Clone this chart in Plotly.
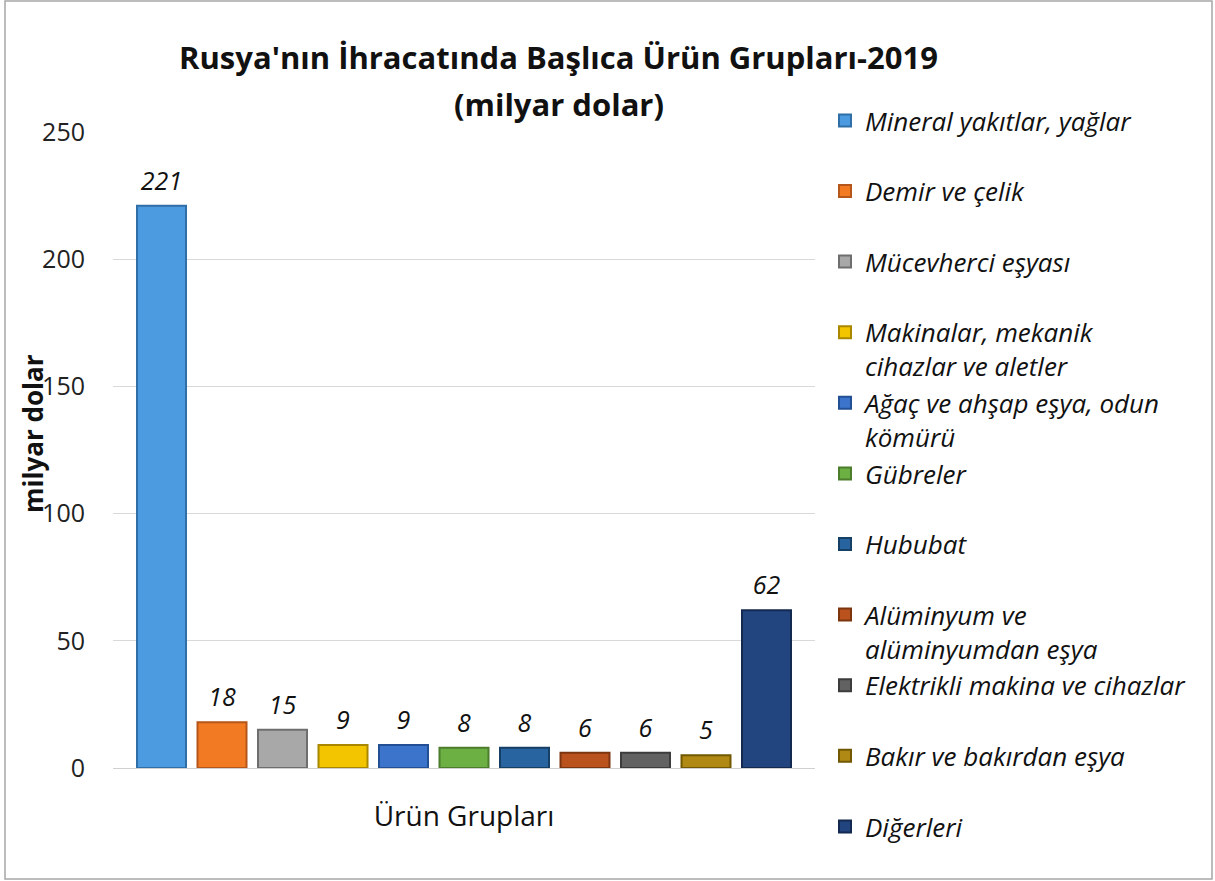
import plotly.graph_objects as go

categories = ["Ürün Grupları"]
series_names = [
    "Mineral yakıtlar, yağlar",
    "Demir ve çelik",
    "Mücevherci eşyası",
    "Makinalar, mekanik<br>cihazlar ve aletler",
    "Ağaç ve ahşap eşya, odun<br>kömürü",
    "Gübreler",
    "Hububat",
    "Alüminyum ve<br>alüminyumdan eşya",
    "Elektrikli makina ve cihazlar",
    "Bakır ve bakırdan eşya",
    "Diğerleri",
]
series_values = [221, 18, 15, 9, 9, 8, 8, 6, 6, 5, 62]
colors = ["#4C9BE0", "#F27A22", "#A8A8A8", "#F2C500", "#3C74CC",
          "#6CAF43", "#28649F", "#B9521C", "#626262", "#B08814", "#22447F"]
edge_colors = ["#2F6EA6", "#B5561A", "#6E6E6E", "#A98800", "#234F94",
               "#4B7D2C", "#163F66", "#7D3510", "#3C3C3C", "#725800", "#14294F"]
y_ticks = [0, 50, 100, 150, 200, 250]

FONT = "'Open Sans', Lato, sans-serif"
BARGAP = 0.052
PL, PR, PT, PB = 113, 815, 132, 768   # plot area in page pixels
PW, PH = PR - PL, PB - PT

fig = go.Figure()
for name, val, c, ec in zip(series_names, series_values, colors, edge_colors):
    label = name if "<br>" in name else name + "<br> "
    fig.add_trace(go.Bar(
        x=categories, y=[val], name=label, legendgroup=name,
        marker=dict(color=c, line=dict(color=ec, width=2)),
    ))
# value labels, dodged the same way as the bars
for name, val in zip(series_names, series_values):
    fig.add_trace(go.Scatter(
        x=categories, y=[val], mode="markers+text", showlegend=False,
        legendgroup=name, hoverinfo="skip",
        marker=dict(size=14, opacity=0),
        text=[str(val)], textposition="top center", cliponaxis=False,
        textfont=dict(family=FONT, size=25, color="#111111", style="italic"),
    ))

fig.update_layout(
    width=1215, height=881,
    paper_bgcolor="white", plot_bgcolor="white",
    margin=dict(l=PL, r=1215 - PR, t=PT, b=881 - PB, autoexpand=False),
    barmode="group", bargap=BARGAP, bargroupgap=0.19,
    scattermode="group", scattergap=BARGAP,
    font=dict(family=FONT, color="#111111"),
    title=dict(text="<b>Rusya'nın İhracatında Başlıca Ürün Grupları-2019</b>",
               x=558.5 / 1215, xanchor="center", y=1 - 58 / 881, yanchor="middle",
               font=dict(family=FONT, size=31, color="#111111")),
    showlegend=True,
    legend=dict(x=(825 - PL) / PW, xanchor="left", y=(PB - 97) / PH, yanchor="top",
                traceorder="grouped", tracegroupgap=0, valign="top", maxheight=900,
                font=dict(family=FONT, size=26, color="#111111", style="italic"),
                bgcolor="rgba(0,0,0,0)"),
    yaxis=dict(range=[0, 250], tickvals=y_ticks, showgrid=True, gridcolor="#D9D9D9",
               gridwidth=1, zeroline=True, zerolinecolor="#D0D0D0", zerolinewidth=1,
               showline=False, ticks="", ticklabelstandoff=27,
               tickfont=dict(family=FONT, size=25, color="#222222")),
    xaxis=dict(showgrid=False, showline=False, ticks="", ticklabelstandoff=29,
               tickfont=dict(family=FONT, size=28, color="#111111")),
    annotations=[
        dict(text="<b>(milyar dolar)</b>", xref="paper", yref="paper",
             x=(558.5 - PL) / PW, y=(PB - 104) / PH, xanchor="center",
             yanchor="middle", showarrow=False,
             font=dict(family=FONT, size=31, color="#111111")),
        dict(text="<b>milyar dolar</b>", xref="paper", yref="paper", textangle=-90,
             x=(33 - PL) / PW, y=(PB - 434) / PH, xanchor="center",
             yanchor="middle", showarrow=False,
             font=dict(family=FONT, size=26, color="#111111")),
    ],
    shapes=[dict(type="rect", xref="paper", yref="paper",
                 x0=(5 - PL) / PW, x1=(1212 - PL) / PW,
                 y0=(PB - 879) / PH, y1=(PB - 1) / PH,
                 line=dict(color="#A6A6A6", width=1.5), fillcolor="rgba(0,0,0,0)")],
)

fig.write_html("out.html", config={"displayModeBar": False},
               post_script="document.body.style.margin='0px';")
